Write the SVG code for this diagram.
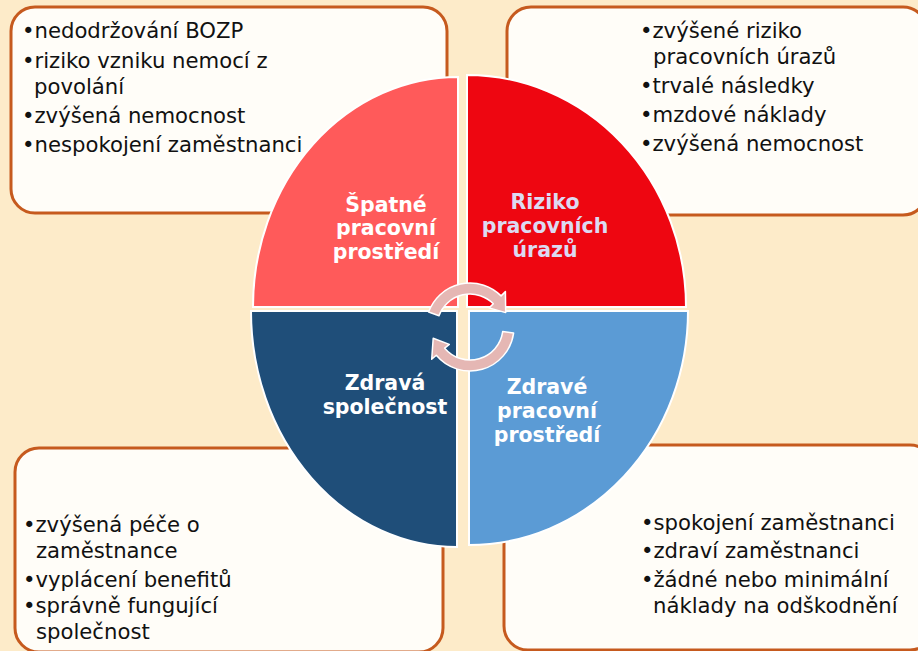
<svg xmlns="http://www.w3.org/2000/svg" width="918" height="651" viewBox="0 0 918 651">
  <style>
    .box { fill: #FFFDF8; stroke: #C65A1E; stroke-width: 3; }
    .item { font-family: "DejaVu Sans", Verdana, sans-serif; font-size: 21.2px; fill: #111111; }
    .quad { stroke: #FFFFFF; stroke-width: 2; }
    .title { font-family: "DejaVu Sans", Verdana, sans-serif; font-size: 20.5px; font-weight: bold; fill: #FFFFFF; text-anchor: middle; }
    .title.pale { fill: #DCDAF2; }
    .cycle { fill: #E5B7B4; stroke: #FFFFFF; stroke-width: 1.5; stroke-linejoin: round; }
  </style>

  <!-- page background -->
  <rect x="0" y="0" width="918" height="651" fill="#FDEBC9"/>

  <!-- corner text boxes -->
  <g id="box-top-left">
    <rect class="box" x="11" y="7" width="436" height="206" rx="24"/>
    <text class="item" x="22" y="38">•nedodržování BOZP</text>
    <text class="item" x="22" y="68">•riziko vzniku nemocí z</text>
    <text class="item" x="34" y="94">povolání</text>
    <text class="item" x="22" y="123">•zvýšená nemocnost</text>
    <text class="item" x="22" y="152">•nespokojení zaměstnanci</text>
  </g>

  <g id="box-top-right">
    <rect class="box" x="507" y="7" width="420" height="208" rx="24"/>
    <text class="item" x="640" y="38">•zvýšené riziko</text>
    <text class="item" x="653" y="64">pracovních úrazů</text>
    <text class="item" x="640" y="93">•trvalé následky</text>
    <text class="item" x="640" y="122">•mzdové náklady</text>
    <text class="item" x="640" y="151">•zvýšená nemocnost</text>
  </g>

  <g id="box-bottom-left">
    <rect class="box" x="15" y="448" width="428" height="204" rx="24"/>
    <text class="item" x="23" y="532">•zvýšená péče o</text>
    <text class="item" x="36" y="558">zaměstnance</text>
    <text class="item" x="23" y="587">•vyplácení benefitů</text>
    <text class="item" x="23" y="613">•správně fungující</text>
    <text class="item" x="36" y="639">společnost</text>
  </g>

  <g id="box-bottom-right">
    <rect class="box" x="504" y="445" width="430" height="205" rx="24"/>
    <text class="item" x="641" y="530">•spokojení zaměstnanci</text>
    <text class="item" x="641" y="558">•zdraví zaměstnanci</text>
    <text class="item" x="641" y="587">•žádné nebo minimální</text>
    <text class="item" x="653" y="613">náklady na odškodnění</text>
  </g>

  <!-- central quadrant matrix -->
  <g id="quad-bad-environment">
    <path class="quad" fill="#FF5A5A" d="M458 307 L253 307 A205 230 0 0 1 458 77 Z"/>
    <text class="title" x="386" y="212">Špatné</text>
    <text class="title" x="386" y="235">pracovní</text>
    <text class="title" x="386" y="259">prostředí</text>
  </g>

  <g id="quad-injury-risk">
    <path class="quad" fill="#EE0611" d="M467 307 L467 75 A219 232 0 0 1 686 307 Z"/>
    <text class="title pale" x="545" y="209">Riziko</text>
    <text class="title pale" x="545" y="233">pracovních</text>
    <text class="title pale" x="545" y="257">úrazů</text>
  </g>

  <g id="quad-healthy-company">
    <path class="quad" fill="#1F4E79" d="M457 311 L457 547 A206 236 0 0 1 251 311 Z"/>
    <text class="title" x="385" y="390">Zdravá</text>
    <text class="title" x="385" y="414">společnost</text>
  </g>

  <g id="quad-healthy-environment">
    <path class="quad" fill="#5B9BD5" d="M469 311 L688 311 A219 234 0 0 1 469 545 Z"/>
    <text class="title" x="547" y="394">Zdravé</text>
    <text class="title" x="547" y="418">pracovní</text>
    <text class="title" x="547" y="442">prostředí</text>
  </g>

  <!-- cycle arrows in the centre -->
  <g id="connectors">
    <path class="cycle" d="M428.6 312.0 A44 44 0 0 1 501.1 295.9 L505.4 291.6 L505.7 312.6 L489.1 307.9 L493.3 303.7 A33 33 0 0 0 439.0 315.7 Z"/>
    <path class="cycle" d="M513.6 333.1 A44 44 0 0 1 436.3 355.3 L431.7 359.2 L433.2 338.2 L449.3 344.4 L444.7 348.2 A33 33 0 0 0 502.7 331.6 Z"/>
  </g>
</svg>
